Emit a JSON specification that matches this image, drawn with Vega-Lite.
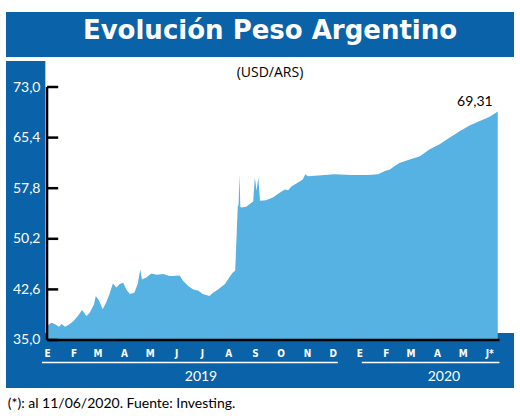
{
  "$schema": "https://vega.github.io/schema/vega-lite/v6.json",
  "width": 508,
  "height": 376,
  "autosize": {"type": "none"},
  "padding": {"left": 6, "top": 12, "right": 6, "bottom": 28},
  "background": "white",
  "title": {
    "text": "Evolución Peso Argentino",
    "subtitle": "(USD/ARS)",
    "anchor": "middle",
    "frame": "group",
    "offset": -68,
    "dx": 10,
    "color": "white",
    "font": "DejaVu Sans",
    "fontSize": 26,
    "fontWeight": "bold",
    "subtitleColor": "black",
    "subtitleFont": "Open Sans",
    "subtitleFontSize": 14,
    "subtitlePadding": 22
  },
  "datasets": {
    "usdars": [
      {"date": "2019-01-02", "value": 37.2},
      {"date": "2019-01-06", "value": 37.6},
      {"date": "2019-01-10", "value": 37.4},
      {"date": "2019-01-15", "value": 37.0},
      {"date": "2019-01-18", "value": 37.4},
      {"date": "2019-01-22", "value": 37.0},
      {"date": "2019-01-26", "value": 37.25},
      {"date": "2019-02-01", "value": 37.85},
      {"date": "2019-02-06", "value": 38.6},
      {"date": "2019-02-11", "value": 39.5},
      {"date": "2019-02-16", "value": 38.6},
      {"date": "2019-02-20", "value": 39.1},
      {"date": "2019-02-25", "value": 40.4},
      {"date": "2019-02-27", "value": 41.6},
      {"date": "2019-03-02", "value": 41.1},
      {"date": "2019-03-04", "value": 40.6},
      {"date": "2019-03-07", "value": 39.6},
      {"date": "2019-03-11", "value": 40.6},
      {"date": "2019-03-15", "value": 41.9},
      {"date": "2019-03-19", "value": 43.5},
      {"date": "2019-03-23", "value": 42.9},
      {"date": "2019-03-27", "value": 43.4},
      {"date": "2019-03-31", "value": 43.6},
      {"date": "2019-04-04", "value": 42.5},
      {"date": "2019-04-08", "value": 41.9},
      {"date": "2019-04-13", "value": 42.1},
      {"date": "2019-04-17", "value": 43.4},
      {"date": "2019-04-20", "value": 45.6},
      {"date": "2019-04-22", "value": 44.1},
      {"date": "2019-04-27", "value": 44.4},
      {"date": "2019-05-03", "value": 45.0},
      {"date": "2019-05-09", "value": 44.8},
      {"date": "2019-05-17", "value": 44.9},
      {"date": "2019-05-24", "value": 44.6},
      {"date": "2019-05-28", "value": 44.6},
      {"date": "2019-06-05", "value": 44.7},
      {"date": "2019-06-09", "value": 43.9},
      {"date": "2019-06-15", "value": 43.1},
      {"date": "2019-06-21", "value": 42.6},
      {"date": "2019-06-27", "value": 42.4},
      {"date": "2019-07-02", "value": 41.9},
      {"date": "2019-07-10", "value": 41.6},
      {"date": "2019-07-14", "value": 42.1},
      {"date": "2019-07-20", "value": 42.6},
      {"date": "2019-07-28", "value": 43.4},
      {"date": "2019-08-02", "value": 44.4},
      {"date": "2019-08-06", "value": 45.1},
      {"date": "2019-08-09", "value": 45.4},
      {"date": "2019-08-12", "value": 55.0},
      {"date": "2019-08-13", "value": 55.3},
      {"date": "2019-08-14", "value": 59.9},
      {"date": "2019-08-15", "value": 55.0},
      {"date": "2019-08-16", "value": 54.9},
      {"date": "2019-08-22", "value": 55.0},
      {"date": "2019-08-28", "value": 55.6},
      {"date": "2019-08-30", "value": 55.8},
      {"date": "2019-09-01", "value": 59.4},
      {"date": "2019-09-03", "value": 57.4},
      {"date": "2019-09-05", "value": 59.4},
      {"date": "2019-09-07", "value": 55.9},
      {"date": "2019-09-14", "value": 56.0},
      {"date": "2019-09-22", "value": 56.4},
      {"date": "2019-09-30", "value": 57.1},
      {"date": "2019-10-06", "value": 57.6},
      {"date": "2019-10-10", "value": 57.5},
      {"date": "2019-10-14", "value": 58.1},
      {"date": "2019-10-21", "value": 58.6},
      {"date": "2019-10-27", "value": 59.1},
      {"date": "2019-10-30", "value": 59.9},
      {"date": "2019-11-02", "value": 59.6},
      {"date": "2019-11-14", "value": 59.7},
      {"date": "2019-12-03", "value": 59.9},
      {"date": "2019-12-23", "value": 59.8},
      {"date": "2020-01-11", "value": 59.8},
      {"date": "2020-01-23", "value": 59.9},
      {"date": "2020-01-31", "value": 60.4},
      {"date": "2020-02-06", "value": 60.6},
      {"date": "2020-02-11", "value": 61.1},
      {"date": "2020-02-17", "value": 61.6},
      {"date": "2020-02-29", "value": 62.1},
      {"date": "2020-03-12", "value": 62.6},
      {"date": "2020-03-23", "value": 63.6},
      {"date": "2020-04-04", "value": 64.4},
      {"date": "2020-04-16", "value": 65.4},
      {"date": "2020-04-28", "value": 66.4},
      {"date": "2020-05-09", "value": 67.2},
      {"date": "2020-05-21", "value": 67.9},
      {"date": "2020-06-01", "value": 68.5},
      {"date": "2020-06-11", "value": 69.31}
    ],
    "years": [
      {"label": "2019", "start": "2018-12-26", "mid": "2019-06-30", "end": "2019-12-07"},
      {"label": "2020", "start": "2020-01-04", "mid": "2020-04-09", "end": "2020-06-13"}
    ]
  },
  "resolve": {"axis": {"x": "independent", "y": "independent"}},
  "layer": [
    {
      "data": {"name": "usdars"},
      "mark": {"type": "area", "opacity": 0},
      "encoding": {
        "x": {
          "field": "date",
          "type": "temporal",
          "scale": {
            "type": "utc",
            "domain": [
              {"year": 2018, "month": 11, "date": 14, "utc": true},
              {"year": 2020, "month": 6, "date": 30, "utc": true}
            ],
            "nice": false
          },
          "axis": {
            "orient": "bottom",
            "offset": -42,
            "zindex": 1,
            "title": null,
            "domain": false,
            "ticks": false,
            "tickSize": 0,
            "grid": false,
            "labelPadding": 2,
            "labelColor": "white",
            "labelFont": "DejaVu Sans Condensed, Roboto, sans-serif",
            "labelFontSize": 10,
            "labelFontWeight": "bold",
            "labelOverlap": false,
            "labelFlush": false,
            "labelBound": false,
            "values": [
              {"year": 2019, "month": 1, "date": 1, "utc": true},
              {"year": 2019, "month": 2, "date": 1, "utc": true},
              {"year": 2019, "month": 3, "date": 1, "utc": true},
              {"year": 2019, "month": 4, "date": 1, "utc": true},
              {"year": 2019, "month": 5, "date": 1, "utc": true},
              {"year": 2019, "month": 6, "date": 1, "utc": true},
              {"year": 2019, "month": 7, "date": 1, "utc": true},
              {"year": 2019, "month": 8, "date": 1, "utc": true},
              {"year": 2019, "month": 9, "date": 1, "utc": true},
              {"year": 2019, "month": 10, "date": 1, "utc": true},
              {"year": 2019, "month": 11, "date": 1, "utc": true},
              {"year": 2019, "month": 12, "date": 1, "utc": true},
              {"year": 2020, "month": 1, "date": 1, "utc": true},
              {"year": 2020, "month": 2, "date": 1, "utc": true},
              {"year": 2020, "month": 3, "date": 1, "utc": true},
              {"year": 2020, "month": 4, "date": 1, "utc": true},
              {"year": 2020, "month": 5, "date": 1, "utc": true},
              {"year": 2020, "month": 6, "date": 1, "utc": true}
            ],
            "labelExpr": "utcyear(datum.value) == 2020 && utcmonth(datum.value) == 5 ? 'J*' : ['E','F','M','A','M','J','J','A','S','O','N','D'][utcmonth(datum.value)]"
          }
        },
        "y": {
          "field": "value",
          "type": "quantitative",
          "scale": {"domain": [27.79, 84.265], "nice": false, "zero": false},
          "axis": {
            "orient": "left",
            "offset": -41,
            "zindex": 1,
            "title": null,
            "domain": false,
            "grid": false,
            "ticks": false,
            "tickSize": 0,
            "values": [35, 42.6, 50.2, 57.8, 65.4, 73],
            "format": ".1f",
            "labelPadding": 7,
            "labelColor": "white",
            "labelFont": "Lato",
            "labelFontSize": 14,
            "labelOverlap": false,
            "labelBound": false,
            "labelFlush": false
          }
        },
        "y2": {"datum": 35}
      }
    },
    {
      "data": {"values": [{}]},
      "mark": {"type": "rect", "color": "white"},
      "encoding": {
        "x": {"datum": {"year": 2018, "month": 12, "date": 30, "utc": true}, "type": "temporal", "axis": null},
        "x2": {"datum": {"year": 2020, "month": 6, "date": 30, "utc": true}},
        "y": {"datum": 36.05, "type": "quantitative", "axis": null},
        "y2": {"datum": 77.5}
      }
    },
    {
      "data": {"values": [{}]},
      "mark": {"type": "rect", "color": "white"},
      "encoding": {
        "x": {"datum": {"year": 2018, "month": 11, "date": 14, "utc": true}, "type": "temporal", "axis": null},
        "x2": {"datum": {"year": 2020, "month": 6, "date": 30, "utc": true}},
        "y": {"datum": 76.9, "type": "quantitative", "axis": null},
        "y2": {"datum": 77.5}
      }
    },
    {
      "data": {"name": "usdars"},
      "mark": {"type": "area", "color": "#55b2e2", "opacity": 1},
      "encoding": {
        "x": {"field": "date", "type": "temporal", "axis": null},
        "y": {"field": "value", "type": "quantitative", "axis": null},
        "y2": {"datum": 35}
      }
    },
    {
      "data": {"values": [{"tick": 35}, {"tick": 42.6}, {"tick": 50.2}, {"tick": 57.8}, {"tick": 65.4}, {"tick": 73}]},
      "mark": {"type": "rule", "color": "black", "strokeWidth": 2.5},
      "encoding": {
        "x": {"datum": {"year": 2019, "month": 1, "date": 1, "utc": true}, "type": "temporal", "axis": null},
        "x2": {"datum": {"year": 2019, "month": 1, "date": 14, "utc": true}},
        "y": {"field": "tick", "type": "quantitative", "axis": null}
      }
    },
    {
      "data": {"values": [{}]},
      "mark": {"type": "rule", "color": "black", "strokeWidth": 2.5},
      "encoding": {
        "x": {"datum": {"year": 2019, "month": 1, "date": 1, "utc": true}, "type": "temporal", "axis": null},
        "y": {"datum": 35, "type": "quantitative", "axis": null},
        "y2": {"datum": 73}
      }
    },
    {
      "data": {"values": [{}]},
      "mark": {"type": "rule", "color": "black", "strokeWidth": 2.5},
      "encoding": {
        "x": {"datum": {"year": 2019, "month": 1, "date": 1, "utc": true}, "type": "temporal", "axis": null},
        "x2": {"datum": {"year": 2020, "month": 6, "date": 13, "utc": true}},
        "y": {"datum": 35, "type": "quantitative", "axis": null}
      }
    },
    {
      "data": {"name": "usdars"},
      "transform": [
        {"joinaggregate": [{"op": "max", "field": "value", "as": "maxv"}]},
        {"filter": "datum.value === datum.maxv"}
      ],
      "mark": {"type": "text", "align": "right", "baseline": "bottom", "dx": -5, "dy": -3, "font": "Lato", "fontSize": 14, "color": "black"},
      "encoding": {
        "x": {"field": "date", "type": "temporal", "axis": null},
        "y": {"field": "value", "type": "quantitative", "axis": null},
        "text": {"field": "value", "type": "quantitative", "format": ".2f"}
      }
    },
    {
      "data": {"name": "years"},
      "mark": {"type": "rule", "color": "white", "strokeWidth": 1.5},
      "encoding": {
        "x": {"field": "start", "type": "temporal", "axis": null},
        "x2": {"field": "end"},
        "y": {"datum": 31.62, "type": "quantitative", "axis": null}
      }
    },
    {
      "data": {"name": "years"},
      "mark": {"type": "text", "align": "center", "baseline": "middle", "font": "Lato", "fontSize": 14, "color": "white"},
      "encoding": {
        "x": {"field": "mid", "type": "temporal", "axis": null},
        "y": {"datum": 29.44, "type": "quantitative", "axis": null},
        "text": {"field": "label"}
      }
    },
    {
      "data": {"values": [{}]},
      "mark": {"type": "text", "align": "left", "baseline": "middle", "font": "Lato", "fontSize": 14, "color": "black", "text": "(*): al 11/06/2020. Fuente: Investing."},
      "encoding": {
        "x": {"datum": {"year": 2018, "month": 11, "date": 16, "utc": true}, "type": "temporal", "axis": null},
        "y": {"datum": 25.39, "type": "quantitative", "axis": null}
      }
    }
  ],
  "config": {
    "locale": {"number": {"decimal": ",", "thousands": ".", "grouping": [3], "currency": ["$", ""]}},
    "view": {"stroke": null, "fill": "#0a62a8"}
  }
}
